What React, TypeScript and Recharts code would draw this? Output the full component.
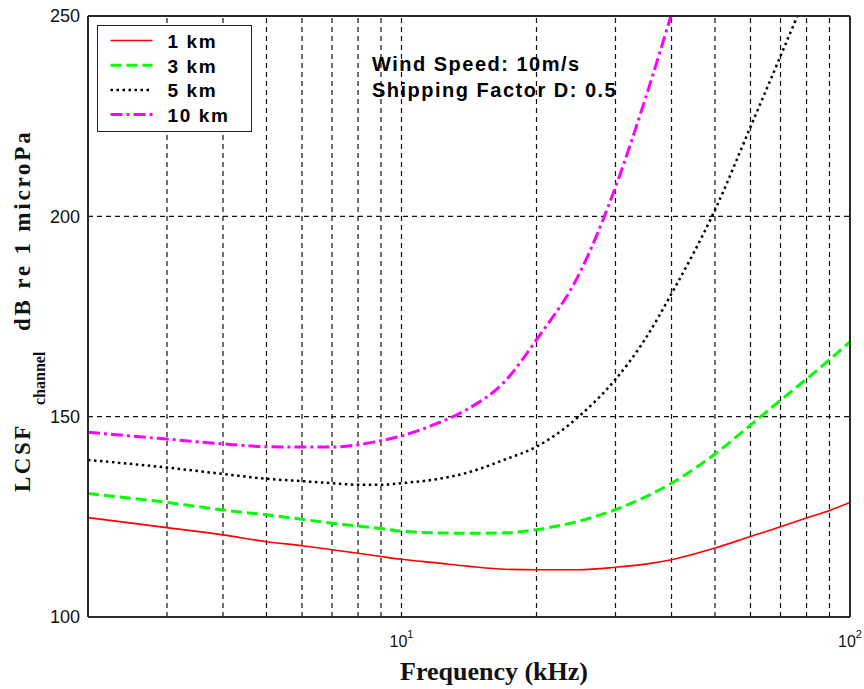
import React from 'react';
import {
    LineChart,
    Line,
    XAxis,
    YAxis,
    CartesianGrid,
    ReferenceLine,
    Legend,
    Customized
} from 'recharts';

// values (dB re 1 microPa vs frequency in kHz)
const freqKHz = [2, 3, 4, 5, 6, 7, 8, 9, 10, 12, 14, 17, 20, 25, 30, 35, 40, 50, 60, 70, 80, 90, 100];
const range1km = [124.8, 122.3, 120.5, 118.8, 117.8, 116.8, 115.9, 115.1, 114.4, 113.5, 112.7, 111.9, 111.8, 111.8, 112.4, 113.2, 114.3, 117.2, 120.1, 122.5, 124.7, 126.6, 128.6];
const range3km = [130.8, 128.6, 126.7, 125.5, 124.4, 123.4, 122.7, 122.1, 121.4, 121.0, 120.9, 121.0, 121.8, 124.0, 126.8, 130.0, 133.4, 140.7, 147.9, 154.1, 159.4, 164.2, 168.7];
const range5km = [139.2, 137.3, 135.7, 134.5, 133.9, 133.4, 133.0, 133.0, 133.4, 134.4, 136.0, 139.3, 142.5, 150.3, 159.3, 169.5, 180.7, 201.6, 222.3, 240.0, 255.5, null, null];
const range10km = [146.1, 144.4, 143.2, 142.5, 142.4, 142.4, 143.0, 144.0, 145.2, 148.3, 151.8, 158.8, 169.2, 186.0, 207.3, 229.5, 250.5, null, null, null, null, null, null];

const seriesNames = ['1 km', '3 km', '5 km', '10 km'];
const xTicks = [10, 100];
const yTicks = [100, 150, 200, 250];
const gridFreqs = [3, 4, 5, 6, 7, 8, 9, 10, 20, 30, 40, 50, 60, 70, 80, 90];
const noteLines = ['Wind Speed: 10m/s', 'Shipping Factor D: 0.5'];

const SANS = "'Liberation Sans', Arial, sans-serif";
const SERIF = "'Liberation Serif', 'Times New Roman', serif";

const seriesStyle = [
    { key: 'r1', color: '#ff0000', width: 1.6, dash: undefined as string | undefined },
    { key: 'r3', color: '#00ff00', width: 3, dash: '11 5' },
    { key: 'r5', color: '#000000', width: 2.5, dash: '2.5 3.5' },
    { key: 'r10', color: '#ff00ff', width: 3, dash: '12 4 3 4' }
];

const data = freqKHz.map((f, i) => ({
    f,
    r1: range1km[i],
    r3: range3km[i],
    r5: range5km[i],
    r10: range10km[i]
}));

const FreqTick = (props: any) => {
    const { x, y, payload } = props;
    const exp = Math.round(Math.log10(payload.value));
    return (
        <text x={x} y={y + 22} textAnchor="middle" fontSize={16} fill="#111" fontFamily={SANS}>
            10<tspan dy={-9} fontSize={11}>{exp}</tspan>
        </text>
    );
};

const LegendBox = () => (
    <div style={{ width: 155, height: 107, border: '1.5px solid #222', background: '#fff', boxSizing: 'border-box' }}>
        <svg width={152} height={104} style={{ display: 'block' }}>
            {seriesStyle.map((s, i) => {
                const rowY = 14.5 + i * 24.7;
                return (
                    <g key={s.key}>
                        <line x1={12.5} x2={54.5} y1={rowY} y2={rowY} stroke={s.color} strokeWidth={s.width} strokeDasharray={s.dash} />
                        <text x={69.5} y={rowY + 7.3} fontSize={19} fontWeight="bold" letterSpacing={1.6} fontFamily={SANS} fill="#000">
                            {seriesNames[i]}
                        </text>
                    </g>
                );
            })}
        </svg>
    </div>
);

const Annotations = () => (
    <g>
        {noteLines.map((t, i) => (
            <text key={t} x={372} y={71 + i * 25.5} fontSize={20} fontWeight="bold" letterSpacing={1.5} fontFamily={SANS} fill="#000">
                {t}
            </text>
        ))}
        <text x={494} y={680} textAnchor="middle" fontSize={26} fontWeight="bold" fontFamily={SERIF} fill="#111">
            Frequency (kHz)
        </text>
        <text transform="translate(30,492) rotate(-90)" fontSize={23} letterSpacing={2.5} fontWeight="bold" fontFamily={SERIF} fill="#111">
            LCSF
        </text>
        <text transform="translate(45,405) rotate(-90)" fontSize={16} fontWeight="bold" fontFamily={SERIF} fill="#111">
            channel
        </text>
        <text transform="translate(30,331) rotate(-90)" fontSize={23} letterSpacing={2.8} fontWeight="bold" fontFamily={SERIF} fill="#111">
            dB re 1 microPa
        </text>
    </g>
);

export default function App() {
    return (
        <div style={{ position: 'absolute', left: 0, top: 0, width: 864, height: 689, background: '#fff' }}>
            <LineChart width={864} height={689} data={data} margin={{ top: 16, right: 14, bottom: 0, left: 0 }}>
                <CartesianGrid vertical={false} stroke="#111" strokeDasharray="5 4" strokeWidth={1.2} />
                {gridFreqs.map(f => (
                    <ReferenceLine key={`g-${f}`} x={f} stroke="#111" strokeDasharray="5 4" strokeWidth={1.2} />
                ))}
                <XAxis
                    dataKey="f"
                    type="number"
                    scale="log"
                    domain={[2, 100]}
                    ticks={xTicks}
                    allowDataOverflow
                    interval={0}
                    height={72}
                    tickLine={false}
                    axisLine={false}
                    tick={<FreqTick />}
                />
                <YAxis
                    type="number"
                    domain={[100, 250]}
                    ticks={yTicks}
                    allowDataOverflow
                    interval={0}
                    width={88}
                    tickLine={false}
                    axisLine={false}
                    tick={{ fontSize: 18, fill: '#111', fontFamily: SANS }}
                />
                {seriesStyle.map((s, i) => (
                    <Line
                        key={s.key}
                        dataKey={s.key}
                        name={seriesNames[i]}
                        type="monotone"
                        stroke={s.color}
                        strokeWidth={s.width}
                        strokeDasharray={s.dash}
                        dot={false}
                        activeDot={false}
                        isAnimationActive={false}
                    />
                ))}
                <ReferenceLine x={2} stroke="#2a2a2a" strokeWidth={2} />
                <ReferenceLine x={100} stroke="#2a2a2a" strokeWidth={2} />
                <ReferenceLine y={100} stroke="#2a2a2a" strokeWidth={2} />
                <ReferenceLine y={250} stroke="#2a2a2a" strokeWidth={2} />
                <Legend
                    layout="vertical"
                    align="center"
                    verticalAlign="middle"
                    content={() => <LegendBox />}
                    wrapperStyle={{ left: 97, top: 25, width: 155, height: 107 }}
                />
                <Customized component={<Annotations />} />
            </LineChart>
        </div>
    );
}
